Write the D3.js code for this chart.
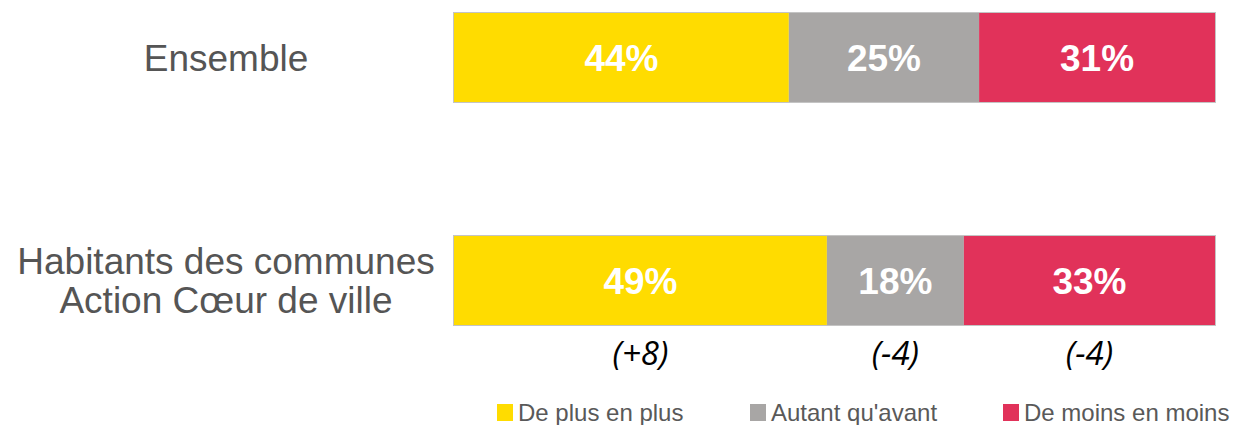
<!DOCTYPE html>
<html>
<head>
<meta charset="utf-8">
<script src="https://cdn.jsdelivr.net/npm/d3@7"></script>
<style>
  body { margin: 0; background: #fff; }
  svg { display: block; font-family: "Liberation Sans", Arial, sans-serif; }
</style>
</head>
<body>
<svg width="1242" height="425"></svg>
<script>
// chart data
const groups = ["Ensemble", "Habitants des communes\nAction Cœur de ville"];
const series = ["De plus en plus", "Autant qu'avant", "De moins en moins"];
const plusValues = [44, 49];
const autantValues = [25, 18];
const moinsValues = [31, 33];
const changes = ["(+8)", "(-4)", "(-4)"]; // evolution, second group only
const colors = ["#FFDC00", "#A8A6A5", "#E1325A"];

const svg = d3.select("svg");

const xScale = d3.scaleLinear().domain([0, 100]).range([454, 1215]);
const yScale = d3.scaleBand().domain(groups).range([13, 325]).paddingInner(0.601);

// stack the three series
const rows = groups.map((g, i) => ({
  group: g,
  [series[0]]: plusValues[i],
  [series[1]]: autantValues[i],
  [series[2]]: moinsValues[i]
}));
const stacked = d3.stack().keys(series)(rows);

// bar outlines
svg.selectAll(".outline")
  .data(groups)
  .enter()
  .append("rect")
  .attr("x", xScale(0) - 0.5)
  .attr("y", d => yScale(d) - 0.5)
  .attr("width", xScale(100) - xScale(0) + 1)
  .attr("height", yScale.bandwidth() + 1)
  .attr("fill", "none")
  .attr("stroke", "#c4c4c4");

const layer = svg.selectAll(".layer")
  .data(stacked)
  .enter()
  .append("g")
  .attr("fill", (d, i) => colors[i]);

layer.selectAll("rect")
  .data(d => d)
  .enter()
  .append("rect")
  .attr("x", d => xScale(d[0]))
  .attr("y", d => yScale(d.data.group))
  .attr("width", d => xScale(d[1]) - xScale(d[0]))
  .attr("height", yScale.bandwidth());

layer.selectAll("text")
  .data(d => d)
  .enter()
  .append("text")
  .attr("x", d => (xScale(d[0]) + xScale(d[1])) / 2)
  .attr("y", d => yScale(d.data.group) + yScale.bandwidth() / 2)
  .attr("dy", "0.36em")
  .attr("text-anchor", "middle")
  .attr("fill", "#fff")
  .style("font-size", "37px")
  .style("font-weight", "bold")
  .text(d => (d[1] - d[0]) + "%");

// group labels on the left
const labels = svg.selectAll(".glabel")
  .data(groups)
  .enter()
  .append("text")
  .attr("text-anchor", "middle")
  .attr("fill", "#555")
  .style("font-size", "37px");

labels.each(function (d) {
  const lines = d.split("\n");
  const cy = yScale(d) + yScale.bandwidth() / 2;
  d3.select(this).selectAll("tspan")
    .data(lines)
    .enter()
    .append("tspan")
    .attr("x", 226)
    .attr("y", (l, i) => cy + (i - (lines.length - 1) / 2) * 39)
    .attr("dy", "0.36em")
    .text(l => l);
});

// evolution under the second bar
const last = stacked.map(s => s[1]);
svg.selectAll(".change")
  .data(last)
  .enter()
  .append("text")
  .attr("x", d => (xScale(d[0]) + xScale(d[1])) / 2)
  .attr("y", yScale(groups[1]) + yScale.bandwidth() + 28)
  .attr("dy", "0.36em")
  .attr("text-anchor", "middle")
  .attr("fill", "#000")
  .style("font-family", "'Open Sans', sans-serif")
  .style("font-style", "italic")
  .style("font-size", "33px")
  .text((d, i) => changes[i]);

// legend
const legendX = d3.scalePoint().domain(series).range([497, 1003]);
const legend = svg.selectAll(".legend")
  .data(series)
  .enter()
  .append("g")
  .attr("transform", d => `translate(${legendX(d)}, 404)`);

legend.append("rect")
  .attr("width", 16)
  .attr("height", 17)
  .attr("fill", (d, i) => colors[i]);

legend.append("text")
  .attr("x", 21)
  .attr("y", 8.5)
  .attr("dy", "0.36em")
  .attr("fill", "#595959")
  .style("font-size", "24px")
  .text(d => d);
</script>
</body>
</html>
